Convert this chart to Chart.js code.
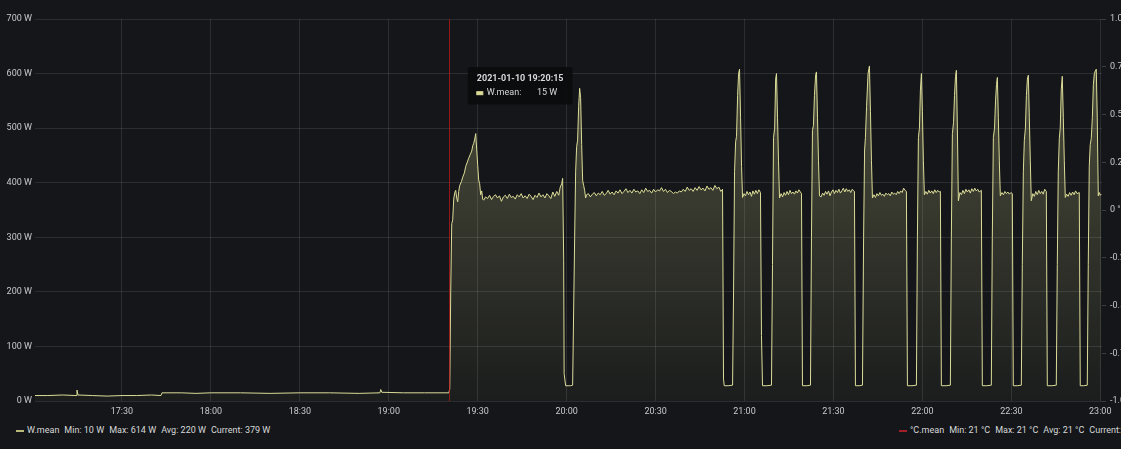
<!DOCTYPE html>
<html>
<head>
<meta charset="utf-8">
<script src="https://cdn.jsdelivr.net/npm/chart.js"></script>
<style>
  html, body { margin: 0; padding: 0; background: #141619; overflow: hidden; width: 1121px; height: 449px; }
  #wrap { position: relative; width: 1121px; height: 449px; overflow: hidden; }
  #myChart { position: absolute; left: 0; top: 0; }
  .legend { position: absolute; top: 425px; font: 9px Roboto, sans-serif; color: #d8d9da; white-space: nowrap; }
  .legend i { display: inline-block; width: 8px; height: 2px; vertical-align: middle; margin-right: 3px; }
  .legend span { margin-left: 5px; }
</style>
</head>
<body>
<div id="wrap">
  <canvas id="myChart" width="1162" height="420"></canvas>
  <div class="legend" style="left:16px"><i style="background:#b9b97c"></i>W.mean<span>Min: 10 W</span><span>Max: 614 W</span><span>Avg: 220 W</span><span>Current: 379 W</span></div>
  <div class="legend" style="left:899px"><i style="background:#a3202a"></i>°C.mean<span>Min: 21 °C</span><span>Max: 21 °C</span><span>Avg: 21 °C</span><span>Current: 21 °C</span></div>
</div>
<script>
// W.mean samples, 2021-01-10
const times = [
  '17:00:40','17:05:00','17:10:00','17:14:30','17:14:50','17:15:10','17:20:00','17:25:00','17:30:00','17:35:00','17:40:00','17:43:10',
  '17:43:30','17:50:00','17:55:00','18:00:00','18:10:00','18:20:00','18:30:00','18:40:00','18:50:00','18:57:00','18:57:18','18:57:38','19:05:00','19:12:00','19:20:15',
  '19:20:34','19:20:54','19:21:14','19:21:34','19:21:54','19:22:15','19:22:35','19:22:55','19:23:15','19:23:35',
  '19:23:56','19:24:30','19:24:56','19:25:30','19:25:57','19:26:30','19:26:58','19:27:30','19:27:59','19:28:20',
  '19:28:39','19:29:00','19:29:20','19:29:40','19:30:00','19:30:20','19:30:40','19:31:00','19:31:21','19:31:41','19:32:01',
  '19:32:40','19:33:20','19:34:00','19:34:40','19:35:20','19:36:00','19:36:40','19:37:20','19:38:00','19:38:40',
  '19:39:20','19:40:00','19:40:40','19:41:20','19:42:00','19:42:40','19:43:20','19:44:00','19:44:40','19:45:20',
  '19:46:00','19:46:40','19:47:20','19:48:00','19:48:40','19:49:20','19:50:00','19:50:40','19:51:20','19:52:00',
  '19:52:40','19:53:20','19:54:00','19:54:40','19:55:20','19:56:00','19:56:40','19:57:20','19:57:50','19:58:19',
  '19:58:39','19:59:00','19:59:09','19:59:40','20:00:30','20:01:20','20:02:01','20:02:42','20:03:02','20:03:22',
  '20:03:42','20:04:03','20:04:23','20:04:43','20:05:04','20:05:24','20:05:44','20:06:04','20:06:24','20:06:44',
  '20:07:20','20:08:00','20:08:40','20:09:20','20:10:00','20:10:40','20:11:20','20:12:00','20:12:40','20:13:20',
  '20:14:00','20:14:40','20:15:20','20:16:00','20:16:40','20:17:20','20:18:00','20:18:40','20:19:20','20:20:00',
  '20:20:40','20:21:20','20:22:00','20:22:40','20:23:20','20:24:00','20:24:40','20:25:20','20:26:00','20:26:40',
  '20:27:20','20:28:00','20:28:40','20:29:20','20:30:00','20:30:40','20:31:20','20:32:00','20:32:40','20:33:20',
  '20:34:00','20:34:40','20:35:20','20:36:00','20:36:40','20:37:20','20:38:00','20:38:40','20:39:20','20:40:00',
  '20:40:40','20:41:20','20:42:00','20:42:40','20:43:20','20:44:00','20:44:40','20:45:20','20:46:00','20:46:40',
  '20:47:20','20:48:00','20:48:40','20:49:20','20:50:00','20:50:40','20:51:20','20:52:00','20:52:35',
  '20:52:55','20:53:10','20:54:30','20:55:58','20:56:18','20:56:38','20:57:00','20:57:18','20:57:40','20:58:00',
  '20:58:19','20:58:40','20:59:00','20:59:20','20:59:50','21:00:20','21:00:50','21:01:20','21:01:50','21:02:20',
  '21:02:50','21:03:20','21:03:50','21:04:20','21:04:50','21:05:23',
  '21:05:43','21:06:04','21:07:30','21:09:06','21:09:26','21:09:47','21:10:10','21:10:30','21:10:47','21:11:08',
  '21:11:28','21:11:48','21:12:20','21:12:50','21:13:20','21:13:50','21:14:20','21:14:50','21:15:20','21:15:50',
  '21:16:20','21:16:50','21:17:20','21:17:50','21:18:20','21:18:50','21:19:13',
  '21:19:33','21:21:00','21:22:15','21:22:35','21:22:55','21:23:15','21:23:35','21:24:00','21:24:16','21:24:37',
  '21:24:57','21:25:17','21:25:50','21:26:20','21:26:50','21:27:20','21:27:50','21:28:20','21:28:50','21:29:20',
  '21:29:50','21:30:20','21:30:50','21:31:20','21:31:50','21:32:20','21:32:50','21:33:20','21:33:50','21:34:20',
  '21:34:50','21:35:20','21:35:50','21:36:20','21:36:50','21:37:05',
  '21:37:25','21:38:40','21:39:47','21:40:10','21:40:30','21:40:47','21:41:10','21:41:40','21:42:08','21:42:29',
  '21:42:49','21:43:09','21:43:40','21:44:10','21:44:40','21:45:10','21:45:40','21:46:10','21:46:40','21:47:10',
  '21:47:40','21:48:10','21:48:40','21:49:10','21:49:40','21:50:10','21:50:40','21:51:10','21:51:40','21:52:10',
  '21:52:40','21:53:10','21:53:40','21:54:10','21:54:37',
  '21:54:57','21:56:30','21:57:59','21:58:19','21:58:39','21:59:00','21:59:20','21:59:40','22:00:00','22:00:20',
  '22:00:40','22:01:10','22:01:40','22:02:10','22:02:40','22:03:10','22:03:40','22:04:10','22:04:40','22:05:10',
  '22:05:40','22:06:04',
  '22:06:24','22:08:00','22:09:26','22:09:46','22:10:07','22:10:30','22:10:50','22:11:10','22:11:28','22:11:48',
  '22:12:08','22:12:40','22:13:10','22:13:40','22:14:10','22:14:40','22:15:10','22:15:40','22:16:10','22:16:40',
  '22:17:10','22:17:40','22:18:10','22:18:40','22:19:10','22:19:53',
  '22:20:13','22:21:40','22:23:15','22:23:35','22:23:56','22:24:20','22:24:40','22:25:00','22:25:17','22:25:37',
  '22:25:57','22:26:17','22:26:50','22:27:20','22:27:50','22:28:20','22:28:50','22:29:20','22:29:50','22:30:20',
  '22:30:40','22:32:00','22:33:22','22:33:42','22:34:03','22:34:23','22:34:45','22:35:05','22:35:25','22:35:44',
  '22:36:04','22:36:24','22:36:44','22:37:15','22:37:45','22:38:15','22:38:45','22:39:15','22:39:45','22:40:15',
  '22:40:45','22:41:15','22:41:48',
  '22:42:08','22:43:40','22:45:10','22:45:30','22:45:50','22:46:11','22:46:30','22:46:50','22:47:11','22:47:32',
  '22:47:52','22:48:12','22:48:40','22:49:10','22:49:40','22:50:10','22:50:40','22:51:10','22:51:40','22:52:10',
  '22:52:55',
  '22:53:15','22:54:20','22:55:37','22:55:57','22:56:17','22:56:37','22:56:58','22:57:20','22:57:40','22:58:00',
  '22:58:20','22:58:39','22:58:59','22:59:20','22:59:40','23:00:00','23:00:20'
];
const watts = [
  10,10,11,10,20,11,10,9,10,10,11,10,
  15,15,14,15,15,14,15,15,14,15,21,16,15,15,15,
  22,200,325,332,370,382,386,372,365,384,
  395,402,410,418,430,438,445,452,458,468,
  472,480,490,460,432,405,398,378,385,370,368,
  374,371,377,369,375,378,372,376,366,374,
  377,371,379,373,375,370,378,374,380,372,
  376,371,379,375,369,377,373,381,374,378,
  372,380,376,371,383,375,384,377,392,398,
  408,260,50,28,28,28,29,300,420,466,
  478,540,573,556,470,404,395,386,372,378,
  380,374,379,382,376,381,378,384,377,380,
  386,379,383,378,385,381,387,380,384,389,
  382,386,381,388,383,385,380,387,382,390,
  384,386,381,388,383,387,385,391,384,388,
  382,386,384,380,383,381,385,383,388,384,
  392,386,389,384,391,386,393,387,390,385,
  394,388,391,386,395,389,392,384,388,
  40,28,28,29,200,420,475,485,560,600,
  608,520,430,373,380,376,384,378,383,375,
  385,379,386,380,387,382,
  120,28,28,29,250,483,500,590,600,520,
  440,372,380,374,382,377,384,378,386,380,
  383,379,385,381,387,383,380,
  28,28,29,300,496,505,560,598,603,520,
  440,376,374,381,377,384,379,385,376,383,
  387,380,386,382,388,381,385,390,383,389,
  384,387,382,388,385,384,
  28,28,29,300,460,483,540,600,614,530,
  440,372,378,373,380,376,382,377,379,375,
  381,378,380,376,383,379,381,378,384,380,
  385,382,390,386,384,
  28,28,29,300,483,500,570,600,530,440,
  378,384,379,386,381,385,380,387,382,386,
  383,384,
  28,28,29,300,490,510,560,595,606,500,
  367,382,378,386,380,388,383,387,381,389,
  384,390,385,388,383,386,
  28,28,29,300,483,500,550,580,593,520,
  440,376,382,378,384,380,383,379,382,380,
  28,28,29,250,420,478,500,560,590,597,
  520,440,367,380,375,384,378,386,380,384,
  379,388,384,
  28,28,29,250,420,481,500,570,595,520,
  440,373,379,375,382,377,383,378,385,380,
  382,
  28,28,29,250,430,470,481,520,580,600,
  605,608,520,376,382,377,379
];
const xTicks = ['17:30','18:00','18:30','19:00','19:30','20:00','20:30','21:00','21:30','22:00','22:30','23:00'];
const xRange = ['17:00:40', '23:00:35'];
const wattTicks = [0, 100, 200, 300, 400, 500, 600, 700];
const tempTicks = [-1, -0.75, -0.5, -0.25, 0, 0.25, 0.5, 0.75, 1];
const hoverTime = '19:20:15';

const lineColor = '#dcdc98';
const gridColor = 'rgba(255,255,255,0.1)';
const tickColor = '#c8c9cc';

// minutes since 17:00
function toMin(t) {
  const p = t.split(':').map(Number);
  return (p[0] - 17) * 60 + p[1] + (p[2] || 0) / 60;
}

Chart.defaults.font.family = 'Roboto';
Chart.defaults.font.size = 9;

Chart.Tooltip.positioners.grafana = function(items) {
  if (!items.length) return false;
  return { x: items[0].element.x + 21, y: this.chart.chartArea.top + 48 };
};

// red hover line like the grafana crosshair
const crosshair = {
  id: 'crosshair',
  afterDatasetsDraw(chart) {
    const x = Math.round(chart.scales.x.getPixelForValue(toMin(hoverTime))) + 0.5;
    const { top, bottom } = chart.chartArea;
    const c = chart.ctx;
    c.save();
    c.strokeStyle = 'rgba(190,25,25,0.75)';
    c.lineWidth = 1;
    c.beginPath();
    c.moveTo(x, top);
    c.lineTo(x, bottom);
    c.stroke();
    c.restore();
  }
};

const ctx = document.getElementById('myChart');
const chart = new Chart(ctx, {
  type: 'line',
  data: {
    datasets: [{
      label: 'W.mean',
      data: times.map((t, i) => ({ x: toMin(t), y: watts[i] })),
      yAxisID: 'y',
      borderColor: lineColor,
      borderWidth: 1,
      pointRadius: 0,
      tension: 0,
      fill: 'origin',
      backgroundColor(context) {
        const area = context.chart.chartArea;
        if (!area) return 'rgba(0,0,0,0)';
        const g = context.chart.ctx.createLinearGradient(0, area.top, 0, area.bottom);
        g.addColorStop(0, 'rgba(214,214,143,0.32)');
        g.addColorStop(1, 'rgba(214,214,143,0.04)');
        return g;
      }
    }]
  },
  options: {
    responsive: false,
    animation: false,
    events: [],
    layout: { padding: { top: 19, left: 0, right: 0, bottom: 0 } },
    plugins: {
      legend: { display: false },
      tooltip: {
        enabled: true,
        position: 'grafana',
        xAlign: 'left',
        yAlign: 'top',
        caretSize: 0,
        caretPadding: 0,
        cornerRadius: 2,
        backgroundColor: 'rgba(10,11,13,0.9)',
        padding: { left: 9, right: 9, top: 6, bottom: 6 },
        titleFont: { family: 'Roboto', size: 9, weight: 'bold' },
        titleColor: '#d8d9da',
        titleMarginBottom: 4,
        bodyFont: { family: 'Roboto', size: 9 },
        bodyColor: '#d8d9da',
        boxWidth: 6,
        boxHeight: 3,
        boxPadding: 2,
        multiKeyBackground: lineColor,
        callbacks: {
          title: items => '2021-01-10 ' + times[items[0].dataIndex],
          label: item => 'W.mean:       ' + item.parsed.y + ' W',
          labelColor: () => ({ borderColor: lineColor, backgroundColor: lineColor, borderWidth: 0 })
        }
      }
    },
    scales: {
      x: {
        type: 'linear',
        min: toMin(xRange[0]),
        max: toMin(xRange[1]),
        afterBuildTicks(scale) { scale.ticks = xTicks.map(t => ({ value: toMin(t) })); },
        afterFit(scale) { scale.height = 19; },
        ticks: {
          color: tickColor,
          padding: 5,
          maxRotation: 0,
          autoSkip: false,
          callback: (v, i) => xTicks[i]
        },
        grid: { color: gridColor, drawTicks: false },
        border: { display: false }
      },
      y: {
        position: 'left',
        min: wattTicks[0],
        max: wattTicks[wattTicks.length - 1],
        afterBuildTicks(scale) { scale.ticks = wattTicks.map(v => ({ value: v })); },
        afterFit(scale) { scale.width = 35; },
        ticks: { color: tickColor, padding: 3, callback: v => v + ' W' },
        grid: { color: gridColor, drawTicks: false },
        border: { display: false }
      },
      temp: {
        display: true,
        position: 'right',
        min: -1,
        max: 1,
        afterBuildTicks(scale) { scale.ticks = tempTicks.map(v => ({ value: v })); },
        afterFit(scale) { scale.width = 60; },
        ticks: {
          color: tickColor,
          padding: 4,
          callback: v => (v === 0 ? '0' : v.toFixed(2)) + ' °C'
        },
        grid: { drawOnChartArea: false, drawTicks: true, tickLength: 4, tickColor: '#3a3d42' },
        border: { display: false }
      }
    }
  },
  plugins: [crosshair]
});

// show the hover tooltip at 19:20:15
const idx = times.indexOf(hoverTime);
chart.tooltip.setActiveElements([{ datasetIndex: 0, index: idx }], { x: 0, y: 0 });
chart.update();
</script>
</body>
</html>
